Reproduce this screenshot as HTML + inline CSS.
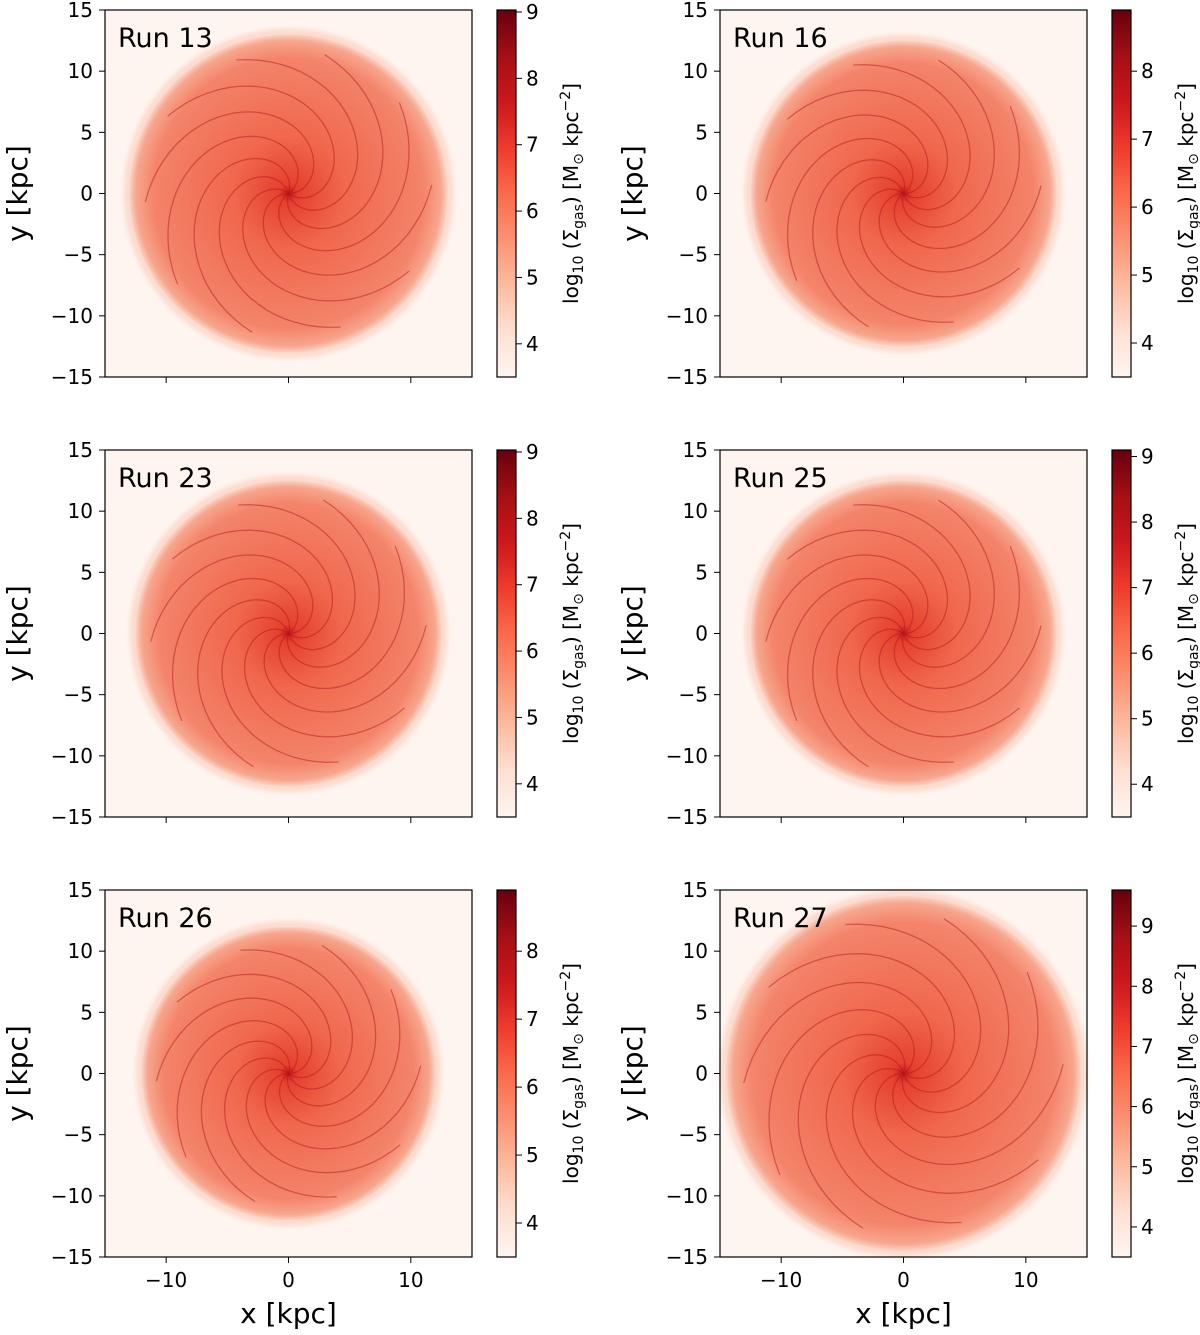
<!DOCTYPE html>
<html><head><meta charset="utf-8"><style>
body{margin:0;background:#fff;}
svg{display:block;font-family:"DejaVu Sans","Liberation Sans",sans-serif;}
</style></head><body>
<svg id="fig" width="1200" height="1335" viewBox="0 0 1200 1335" xmlns="http://www.w3.org/2000/svg">
<defs>
<linearGradient id="reds" x1="0" y1="1" x2="0" y2="0">
<stop offset="0" stop-color="#fff5f0"/><stop offset="0.125" stop-color="#fee0d2"/><stop offset="0.25" stop-color="#fcbba1"/><stop offset="0.375" stop-color="#fc9272"/><stop offset="0.5" stop-color="#fb6a4a"/><stop offset="0.625" stop-color="#ef3b2c"/><stop offset="0.75" stop-color="#cb181d"/><stop offset="0.875" stop-color="#a50f15"/><stop offset="1" stop-color="#67000d"/>
</linearGradient>
<radialGradient id="disc">
<stop offset="0" stop-color="#c9181d"/><stop offset="0.06" stop-color="#e5412f"/><stop offset="0.35" stop-color="#f0674d"/><stop offset="0.85" stop-color="#f3846a"/><stop offset="0.96" stop-color="#f7a68e"/><stop offset="1" stop-color="#fbd3c3"/>
</radialGradient>
<filter id="blur"><feGaussianBlur stdDeviation="2.5"/></filter>
</defs>
</svg>
<script>
const runs=["Run 13","Run 16","Run 23","Run 25","Run 26","Run 27"];
const radii=[13,12.5,12.5,12.5,12,14.5];
const cbMin=[3.5,3.5,3.5,3.5,3.5,3.5];
const cbMax=[9.03,8.9,9.03,9.1,8.9,9.6];
const cbTicks=[[4,5,6,7,8,9],[4,5,6,7,8],[4,5,6,7,8,9],[4,5,6,7,8,9],[4,5,6,7,8],[4,5,6,7,8,9]];
const axTicks=[-15,-10,-5,0,5,10,15];
const xTicks=[-10,0,10];
const NS="http://www.w3.org/2000/svg";
const svg=document.getElementById('fig');
function el(t,a,p){const e=document.createElementNS(NS,t);for(const k in a)e.setAttribute(k,a[k]);(p||svg).appendChild(e);return e;}
const colX=[105,720], rowY=[10,450,890], W=367;
runs.forEach((name,i)=>{
 const x0=colX[i%2], y0=rowY[Math.floor(i/2)];
 const sx=v=>x0+(v+15)/30*W, sy=v=>y0+(15-v)/30*W;
 const g=el('g',{});
 
 
 el('rect',{x:x0,y:y0,width:W,height:W,fill:'#fff5f0'},g);
 const r=radii[i]*W/30, cx=sx(0), cy=sy(0);
 el('circle',{cx:cx,cy:cy,r:r+6,fill:'#fbd0c0',filter:'url(#blur)',opacity:0.7},g);
 const d=el('circle',{cx:cx,cy:cy,r:r,fill:'url(#disc)'},g);
 
 
 // spiral arms
 for(let a=0;a<10;a++){
  let p='';
  for(let t=0;t<=40;t++){const rr=0.3+t/40*r*0.9;const th=a*Math.PI/5+ t/40*3.2;p+=(t?'L':'M')+(cx+rr*Math.cos(th)).toFixed(1)+','+(cy-rr*Math.sin(th)).toFixed(1);}
  el('path',{d:p,fill:'none',stroke:'#b01419',"stroke-width":1.3,opacity:0.45},g);
 }
 el('rect',{x:x0,y:y0,width:W,height:W,fill:'none',stroke:'#000',"stroke-width":1.2},g);
 const t=el('text',{x:x0+13,y:y0+37,"font-size":27},g);t.textContent=name;
 
 axTicks.forEach(v=>{el('line',{x1:x0-6,x2:x0,y1:sy(v),y2:sy(v),stroke:'#000'},g);
  const l=el('text',{x:x0-12,y:sy(v)+7,"font-size":20,"text-anchor":"end"},g);l.textContent=(v<0?'\u2212'+(-v):v);});
 xTicks.forEach(v=>{el('line',{x1:sx(v),x2:sx(v),y1:y0+W,y2:y0+W+6,stroke:'#000'},g);
  if(i>=4){const l=el('text',{x:sx(v),y:y0+W+30,"font-size":20,"text-anchor":"middle"},g);l.textContent=(v<0?'\u2212'+(-v):v);}});
 const yl=el('text',{transform:`translate(${x0-78},${y0+W/2}) rotate(-90)`,"font-size":28,"text-anchor":"middle"},g);yl.textContent='y [kpc]';
 
 if(i>=4){const xl=el('text',{x:x0+W/2,y:y0+W+66,"font-size":28,"text-anchor":"middle"},g);xl.textContent='x [kpc]';
  }
 // colorbar
 const bx=x0+392, bw=19;
 const cb=el('rect',{x:bx,y:y0,width:bw,height:W,fill:'url(#reds)',stroke:'#000',"stroke-width":1.2},g);
 
 const cy2=v=>y0+W-(v-cbMin[i])/(cbMax[i]-cbMin[i])*W;
 cbTicks[i].forEach(v=>{el('line',{x1:bx+bw,x2:bx+bw+6,y1:cy2(v),y2:cy2(v),stroke:'#000'},g);
  const l=el('text',{x:bx+bw+10,y:cy2(v)+7,"font-size":20},g);l.textContent=v;});
 const cl=el('text',{transform:`translate(${bx+81},${y0+W/2}) rotate(-90)`,"font-size":20,"text-anchor":"middle"},g);
 cl.innerHTML='log<tspan font-size="14" dy="5">10</tspan><tspan dy="-5"> (Σ</tspan><tspan font-size="14" dy="5">gas</tspan><tspan dy="-5">) [M</tspan><tspan font-size="14" dy="5">⊙</tspan><tspan dy="-5"> kpc</tspan><tspan font-size="14" dy="-8">−2</tspan><tspan dy="8">]</tspan>';
 
});
</script>
</body></html>
